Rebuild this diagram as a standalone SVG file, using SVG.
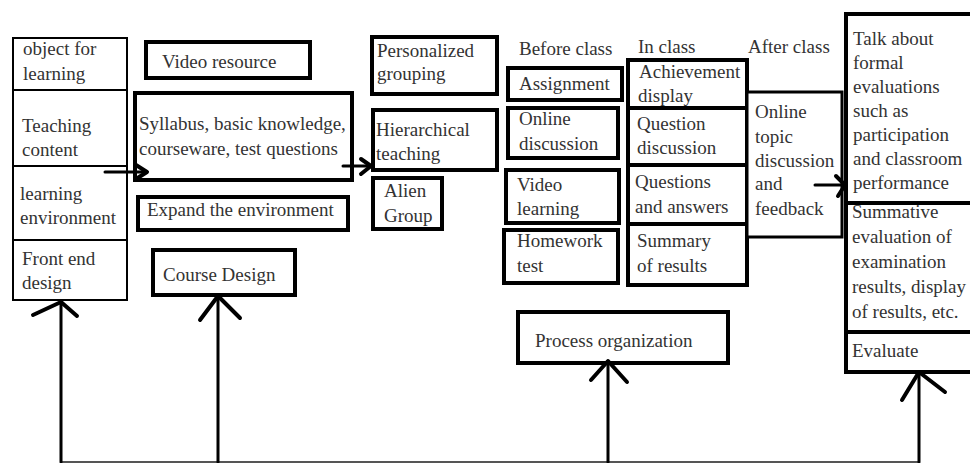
<svg xmlns="http://www.w3.org/2000/svg" width="970" height="463" viewBox="0 0 970 463">
<style>
.t text{font-family:"Liberation Serif","Times New Roman",serif;font-size:19px;fill:#333}
.thin{fill:#fff;stroke:#000;stroke-width:2}
.box{fill:#fff;stroke:#000;stroke-width:4}
.mid{fill:#fff;stroke:#000;stroke-width:3}
.ln{fill:none;stroke:#000;stroke-width:3;stroke-linecap:round;stroke-linejoin:round}
.hd{fill:none;stroke:#000;stroke-width:4;stroke-linecap:round;stroke-linejoin:round}
.base{fill:none;stroke:#555;stroke-width:2}
</style>
<rect width="970" height="463" fill="#fff"/>
<g class="t">
<g id="object-for-learning"><rect class="thin" x="13" y="38" width="114" height="52"/><text x="23" y="55">object for</text><text x="23" y="80">learning</text></g>
<g id="teaching-content"><rect class="thin" x="13" y="90" width="114" height="76"/><text x="22" y="132">Teaching</text><text x="22" y="156">content</text></g>
<g id="learning-environment"><rect class="thin" x="13" y="166" width="114" height="74"/><text x="20" y="200">learning</text><text x="20" y="224">environment</text></g>
<g id="front-end-design"><rect class="thin" x="13" y="240" width="114" height="60"/><text x="22" y="265">Front end</text><text x="22" y="289">design</text></g>
<g id="video-resource"><rect class="box" x="146" y="42" width="164" height="36"/><text x="162" y="68">Video resource</text></g>
<g id="syllabus"><rect class="box" x="135" y="93" width="217" height="87"/><text x="139" y="130">Syllabus, basic knowledge,</text><text x="139" y="155">courseware, test questions</text></g>
<g id="expand-environment"><rect class="box" x="138" y="197" width="210" height="33"/><text x="147" y="216">Expand the environment</text></g>
<g id="course-design"><rect class="box" x="153" y="250" width="142" height="45"/><text x="163" y="281">Course Design</text></g>
<g id="personalized-grouping"><rect class="box" x="372" y="37" width="125" height="57"/><text x="377" y="57">Personalized</text><text x="377" y="80">grouping</text></g>
<g id="hierarchical-teaching"><rect class="box" x="373" y="110" width="124" height="60"/><text x="376" y="136">Hierarchical</text><text x="376" y="160">teaching</text></g>
<g id="alien-group"><rect class="box" x="373" y="178" width="69" height="51"/><text x="384" y="197">Alien</text><text x="384" y="222">Group</text></g>
<g id="before-class"><text x="519" y="55">Before class</text></g>
<g id="assignment"><rect class="box" x="508" y="68" width="114" height="32"/><text x="519" y="90">Assignment</text></g>
<g id="online-discussion"><rect class="box" x="508" y="108" width="110" height="50"/><text x="519" y="125">Online</text><text x="519" y="150">discussion</text></g>
<g id="video-learning"><rect class="box" x="506" y="170" width="113" height="53"/><text x="517" y="191">Video</text><text x="517" y="215">learning</text></g>
<g id="homework-test"><rect class="box" x="504" y="230" width="114" height="53"/><text x="517" y="247">Homework</text><text x="517" y="272">test</text></g>
<g id="in-class"><text x="638" y="53">In class</text></g>
<g id="achievement-display"><rect class="box" x="628" y="60" width="119" height="48"/><text x="639" y="78">Achievement</text><text x="638" y="102">display</text></g>
<g id="question-discussion"><rect class="box" x="628" y="108" width="119" height="57"/><text x="637" y="130">Question</text><text x="637" y="154">discussion</text></g>
<g id="questions-answers"><rect class="box" x="628" y="165" width="119" height="59"/><text x="635" y="188">Questions</text><text x="635" y="213">and answers</text></g>
<g id="summary-results"><rect class="box" x="628" y="224" width="119" height="61"/><text x="637" y="247">Summary</text><text x="637" y="272">of results</text></g>
<g id="after-class"><text x="748" y="53">After class</text></g>
<g id="online-topic"><rect class="mid" x="747" y="92" width="95" height="145"/><text x="755" y="118">Online</text><text x="755" y="143">topic</text><text x="755" y="167">discussion</text><text x="755" y="190">and</text><text x="755" y="215">feedback</text></g>
<g id="formal-evaluation"><rect class="box" x="846" y="14" width="130" height="189"/><text x="853" y="45">Talk about</text><text x="853" y="69">formal</text><text x="853" y="93">evaluations</text><text x="853" y="117">such as</text><text x="853" y="141">participation</text><text x="853" y="165">and classroom</text><text x="853" y="189">performance</text></g>
<g id="summative-evaluation"><rect class="box" x="846" y="203" width="130" height="129"/><text x="852" y="218">Summative</text><text x="852" y="243">evaluation of</text><text x="852" y="268">examination</text><text x="852" y="293">results, display</text><text x="852" y="318">of results, etc.</text></g>
<g id="evaluate"><rect class="box" x="846" y="332" width="130" height="40"/><text x="852" y="357">Evaluate</text></g>
<g id="process-organization"><rect class="box" x="518" y="312" width="210" height="51"/><text x="535" y="347">Process organization</text></g>
</g>
<g id="connectors">
<path class="base" d="M61 462H919"/>
<path class="ln" d="M61 462V302"/><path class="hd" d="M33 315L61 302L77 316"/>
<path class="ln" d="M218 462V296"/><path class="hd" d="M200 320L218 296L240 318"/>
<path class="ln" d="M608 462V361"/><path class="hd" d="M591 380L608 361L627 382"/>
<path class="ln" d="M919 462V372"/><path class="hd" d="M902 400L919 372L945 392"/>
<path class="ln" d="M105 172H147"/><path class="hd" d="M136 165L147 172L136 179"/>
<path class="ln" d="M343 166H371"/><path class="hd" d="M361 159L371 166L361 174"/>
<path class="ln" d="M815 185H845"/><path class="hd" d="M836 176L845 185L838 196"/>
</g>
</svg>
